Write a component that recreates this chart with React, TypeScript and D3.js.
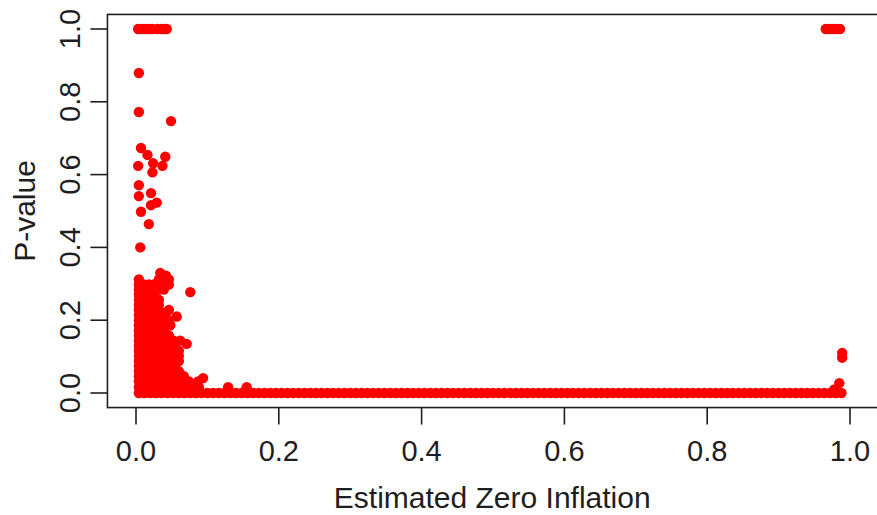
import * as React from 'react';
import * as d3 from 'd3';

const width = 877;
const height = 515;

const xTicks = [0, 0.2, 0.4, 0.6, 0.8, 1.0];
const yTicks = [0, 0.2, 0.4, 0.6, 0.8, 1.0];
const xTitle = 'Estimated Zero Inflation';
const yTitle = 'P-value';

// p-values equal to 1
const topLeftX = [0.003, 0.008, 0.013, 0.018, 0.023, 0.030, 0.035, 0.040, 0.043];
const topRightX = [0.966, 0.971, 0.976, 0.981, 0.986];

// scattered points above the main mass
const sparsePoints: [number, number][] = [
    [0.004, 0.879], [0.004, 0.772], [0.049, 0.747], [0.007, 0.673],
    [0.016, 0.654], [0.003, 0.624], [0.024, 0.631], [0.041, 0.649],
    [0.037, 0.624], [0.023, 0.606], [0.004, 0.571], [0.004, 0.541],
    [0.021, 0.549], [0.029, 0.523], [0.021, 0.516], [0.007, 0.498],
    [0.018, 0.464], [0.006, 0.400], [0.076, 0.277], [0.034, 0.330],
    [0.042, 0.322], [0.057, 0.210], [0.071, 0.135], [0.094, 0.041],
    [0.129, 0.016], [0.155, 0.016], [0.985, 0.027], [0.978, 0.010],
    [0.989, 0.110], [0.989, 0.097]
];

// dense mass near zero inflation, one row per p-value level
const clusterRows: [number, number[]][] = [
    [0.312, [0.004, 0.032, 0.039, 0.046]],
    [0.298, [0.004, 0.011, 0.018, 0.025, 0.032, 0.046]],
    [0.284, [0.004, 0.011, 0.018, 0.025, 0.032, 0.039]],
    [0.270, [0.004, 0.011, 0.018, 0.025]],
    [0.256, [0.004, 0.011, 0.018, 0.025, 0.032]],
    [0.242, [0.004, 0.011, 0.025, 0.032]],
    [0.228, [0.004, 0.011, 0.018, 0.025, 0.032, 0.046]],
    [0.214, [0.004, 0.011, 0.018, 0.025, 0.032, 0.039]],
    [0.200, [0.004, 0.011, 0.018, 0.025, 0.032, 0.039, 0.046]],
    [0.186, [0.004, 0.011, 0.018, 0.025, 0.032, 0.039, 0.048]],
    [0.172, [0.004, 0.011, 0.018, 0.025, 0.032, 0.039]],
    [0.158, [0.004, 0.011, 0.018, 0.025, 0.032, 0.039, 0.046]],
    [0.144, [0.004, 0.011, 0.018, 0.025, 0.032, 0.039, 0.046, 0.053, 0.062]],
    [0.130, [0.004, 0.011, 0.018, 0.025, 0.032, 0.039, 0.046, 0.053]],
    [0.116, [0.004, 0.011, 0.018, 0.025, 0.032, 0.039, 0.046, 0.053, 0.060]],
    [0.102, [0.004, 0.011, 0.018, 0.025, 0.032, 0.039, 0.046, 0.053, 0.060]],
    [0.088, [0.004, 0.011, 0.018, 0.025, 0.032, 0.039, 0.046, 0.053, 0.060]],
    [0.074, [0.004, 0.011, 0.018, 0.032, 0.039, 0.046, 0.053]],
    [0.060, [0.004, 0.011, 0.018, 0.025, 0.032, 0.039, 0.046, 0.053, 0.060]],
    [0.046, [0.004, 0.011, 0.018, 0.025, 0.032, 0.039, 0.046, 0.053, 0.060, 0.067]],
    [0.032, [0.004, 0.011, 0.018, 0.025, 0.032, 0.039, 0.046, 0.053, 0.060, 0.067, 0.074, 0.087]],
    [0.016, [0.004, 0.011, 0.018, 0.025, 0.032, 0.039, 0.046, 0.053, 0.060, 0.067, 0.074, 0.081, 0.088]]
];

// p-values near zero across the whole range
const bandX = [
    0.004, 0.012, 0.020, 0.028, 0.036, 0.044, 0.052, 0.060, 0.068, 0.076,
    0.084, 0.092, 0.100, 0.108, 0.116, 0.124, 0.132, 0.140, 0.148, 0.156,
    0.164, 0.172, 0.180, 0.188, 0.196, 0.204, 0.212, 0.220, 0.228, 0.236,
    0.244, 0.252, 0.260, 0.268, 0.276, 0.284, 0.292, 0.300, 0.308, 0.316,
    0.324, 0.332, 0.340, 0.348, 0.356, 0.364, 0.372, 0.380, 0.388, 0.396,
    0.404, 0.412, 0.420, 0.428, 0.436, 0.444, 0.452, 0.460, 0.468, 0.476,
    0.484, 0.492, 0.500, 0.508, 0.516, 0.524, 0.532, 0.540, 0.548, 0.556,
    0.564, 0.572, 0.580, 0.588, 0.596, 0.604, 0.612, 0.620, 0.628, 0.636,
    0.644, 0.652, 0.660, 0.668, 0.676, 0.684, 0.692, 0.700, 0.708, 0.716,
    0.724, 0.732, 0.740, 0.748, 0.756, 0.764, 0.772, 0.780, 0.788, 0.796,
    0.804, 0.812, 0.820, 0.828, 0.836, 0.844, 0.852, 0.860, 0.868, 0.876,
    0.884, 0.892, 0.900, 0.908, 0.916, 0.924, 0.932, 0.940, 0.948, 0.956,
    0.964, 0.972, 0.980, 0.988
];

const font = '"Liberation Sans", Arial, sans-serif';
const ink = '#1e1e1e';
const red = '#ff0000';

export default function App() {
    const x = d3.scaleLinear().domain([0, 1]).range([136, 850]);
    const y = d3.scaleLinear().domain([0, 1]).range([393, 29]);

    const points: [number, number][] = [
        ...bandX.map(v => [v, 0] as [number, number]),
        ...clusterRows.flatMap(([py, xs]) => xs.map(v => [v, py] as [number, number])),
        ...sparsePoints,
        ...topLeftX.map(v => [v, 1] as [number, number]),
        ...topRightX.map(v => [v, 1] as [number, number])
    ];

    const boxLeft = x(-0.04);
    const boxTop = y(1.04);
    const boxBottom = y(-0.04);
    const boxRight = width + 2;
    const tickLen = 17;

    return (
        <svg width={width} height={height}
            style={{ position: 'absolute', left: 0, top: 0, background: '#fff' }}>
            <g>
                {points.map((p, i) =>
                    <circle key={i} cx={x(p[0])} cy={y(p[1])} r={5.2} fill={red} />)}
            </g>
            <rect x={boxLeft} y={boxTop} width={boxRight - boxLeft} height={boxBottom - boxTop}
                fill="none" stroke={ink} strokeWidth={1.6} />
            <g>
                {xTicks.map(t =>
                    <g key={t}>
                        <line x1={x(t)} x2={x(t)} y1={boxBottom} y2={boxBottom + tickLen}
                            stroke={ink} strokeWidth={1.6} />
                        <text x={x(t)} y={461} textAnchor="middle" fontFamily={font}
                            fontSize={29} fill={ink}>{t.toFixed(1)}</text>
                    </g>)}
            </g>
            <g>
                {yTicks.map(t =>
                    <g key={t}>
                        <line x1={boxLeft - tickLen} x2={boxLeft} y1={y(t)} y2={y(t)}
                            stroke={ink} strokeWidth={1.6} />
                        <text transform={`translate(80,${y(t)}) rotate(-90)`} textAnchor="middle"
                            fontFamily={font} fontSize={29} fill={ink}>{t.toFixed(1)}</text>
                    </g>)}
            </g>
            <text x={(boxLeft + width) / 2} y={508} textAnchor="middle" fontFamily={font}
                fontSize={30} fill={ink}>{xTitle}</text>
            <text transform={`translate(35,${(boxTop + boxBottom) / 2}) rotate(-90)`}
                textAnchor="middle" fontFamily={font} fontSize={30} fill={ink}>{yTitle}</text>
        </svg>
    );
}
